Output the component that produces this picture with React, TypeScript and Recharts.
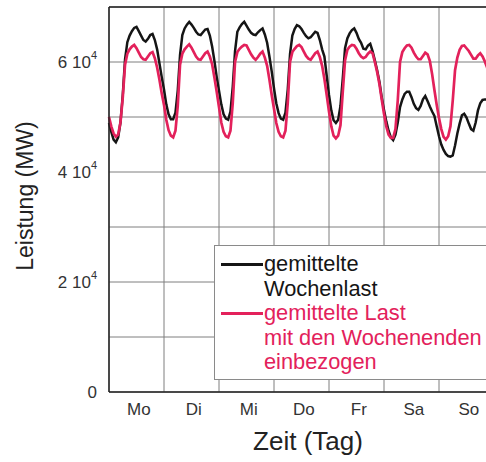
import { LineChart, Line, XAxis, YAxis, CartesianGrid, ReferenceLine } from 'recharts';

// Stundenwerte je Wochentag (MW), jeweils 0–23 Uhr
const wochenlastMo = [48900, 47300, 45900, 45400, 46300, 49000, 54000, 60500, 63600, 64800, 65600, 66200, 66400, 65600, 64800, 64000, 63700, 64200, 64900, 65100, 64000, 62300, 59800, 57300];
const wochenlastDi = [55000, 52300, 50500, 49600, 49600, 50800, 54800, 61300, 64900, 66100, 66800, 67300, 66800, 66200, 65500, 65000, 64900, 65400, 65900, 66000, 64800, 62800, 60200, 57300];
const wochenlastMi = [54800, 52300, 50500, 49700, 49500, 51000, 55500, 62000, 65500, 66300, 66900, 67300, 66600, 65900, 65300, 65000, 64900, 65400, 65800, 66100, 65000, 63500, 61000, 58300];
const wochenlastDo = [55200, 52500, 50700, 49700, 49500, 50800, 55000, 61500, 64800, 66000, 66700, 66500, 66000, 65300, 64700, 64300, 64500, 65000, 65500, 65300, 64000, 62300, 61000, 57500];
const wochenlastFr = [54000, 51200, 49400, 48900, 49500, 52000, 57000, 62500, 64300, 65200, 65800, 66100, 65300, 64200, 63500, 62400, 62300, 63000, 63300, 62000, 60300, 58500, 56400, 53600];
const wochenlastSa = [51300, 49200, 47500, 46300, 45800, 46800, 49000, 51800, 53200, 54200, 54600, 54600, 53600, 52400, 51600, 51300, 52000, 53200, 53800, 52900, 51900, 51000, 50200, 48300];
const wochenlastSo = [46500, 45000, 44000, 43300, 42900, 42800, 43000, 44800, 47000, 48800, 50300, 50600, 49900, 48800, 47800, 47500, 49000, 51200, 52500, 53100, 53200, 53200, 53000, 52600];
const wochenlastEnde = 52200;

const mitWeMo = [50000, 48300, 47000, 46400, 46800, 49000, 53500, 59500, 61500, 62300, 62800, 63100, 62500, 61700, 60900, 60500, 60400, 61000, 61600, 61800, 60700, 59000, 56800, 54300];
const mitWeDi = [52200, 49500, 47600, 46600, 46300, 47500, 52000, 59500, 61500, 62300, 62800, 63200, 62600, 61800, 61000, 60500, 60400, 61000, 61600, 61900, 61000, 59600, 57200, 54600];
const mitWeMi = [51800, 49000, 47300, 46500, 46300, 47500, 52500, 60000, 61800, 62400, 62800, 63100, 63000, 62200, 61400, 60800, 60400, 60900, 61500, 61900, 60800, 59300, 56800, 54000];
const mitWeDo = [51500, 48900, 47300, 46500, 46300, 47500, 52500, 60000, 61800, 62400, 62900, 63100, 62700, 61900, 61100, 60600, 60400, 61000, 61600, 61900, 60900, 59300, 56900, 54000];
const mitWeFr = [51000, 48300, 46600, 46100, 46600, 48500, 54500, 60300, 62200, 62800, 63100, 63000, 62400, 61600, 61000, 60700, 60900, 61500, 61900, 61600, 60000, 58200, 56000, 53200];
const mitWeSa = [50600, 48300, 46800, 46200, 46200, 47800, 53000, 60000, 61800, 62500, 63000, 63100, 62600, 61700, 61000, 60500, 60500, 61100, 61700, 61400, 60200, 57800, 54900, 52200];
const mitWeSo = [49800, 47800, 46400, 45900, 46500, 48300, 53000, 58500, 60800, 62200, 62900, 63000, 62500, 62000, 61300, 60600, 60600, 61200, 61600, 61000, 60100, 59000, 57000, 54500];
const mitWeEnde = 52000;

const tagNamen = ['Mo', 'Di', 'Mi', 'Do', 'Fr', 'Sa', 'So'];
const tagMitten = [13, 37, 61, 85, 109, 133, 157];
const tagGrenzen = [0, 24, 48, 72, 96, 120, 144, 168];
const leistungTicks = [0, 10000, 20000, 30000, 40000, 50000, 60000, 70000];

const SCHWARZ = '#151515';
const ROT = '#e3215b';
const SCHRIFT = '"Liberation Sans", Arial, Helvetica, sans-serif';

const wochenlast = [
  ...wochenlastMo, ...wochenlastDi, ...wochenlastMi, ...wochenlastDo,
  ...wochenlastFr, ...wochenlastSa, ...wochenlastSo, wochenlastEnde,
];
const mitWochenenden = [
  ...mitWeMo, ...mitWeDi, ...mitWeMi, ...mitWeDo,
  ...mitWeFr, ...mitWeSa, ...mitWeSo, mitWeEnde,
];

const daten = wochenlast.map((w, stunde) => ({
  stunde,
  wochenlast: w,
  mitWochenenden: mitWochenenden[stunde],
}));

// Y-Beschriftung in der Form "6 10⁴", nur jeder zweite Rasterwert
const LeistungTick = ({ x, y, payload }: { x?: number; y?: number; payload?: { value: number } }) => {
  const v = payload?.value ?? 0;
  if (v % 20000 !== 0) return <g />;
  return (
    <text x={x} y={y} textAnchor="end" dominantBaseline="central" fontSize={17} fill="#333" fontFamily={SCHRIFT}>
      {v === 0 ? (
        '0'
      ) : (
        <>
          <tspan>{`${v / 10000} 10`}</tspan>
          <tspan dy={-7} fontSize={11}>4</tspan>
        </>
      )}
    </text>
  );
};

const legendenEintraege = [
  { farbe: SCHWARZ, zeilen: ['gemittelte', 'Wochenlast'] },
  { farbe: ROT, zeilen: ['gemittelte Last', 'mit den Wochenenden', 'einbezogen'] },
];

function Legende() {
  return (
    <div
      style={{
        position: 'absolute',
        left: 214,
        top: 245,
        width: 300,
        height: 135,
        boxSizing: 'border-box',
        border: '1px solid #8a8a8a',
        background: '#fff',
        padding: '6px 0 0 0',
        fontFamily: SCHRIFT,
        fontSize: 21.8,
        lineHeight: '24.6px',
      }}
    >
      {legendenEintraege.map((e) => (
        <div key={e.zeilen[0]} style={{ position: 'relative', paddingLeft: 49, color: e.farbe }}>
          <span
            style={{
              position: 'absolute',
              left: 6,
              top: 11,
              width: 42,
              height: 2.5,
              background: e.farbe,
            }}
          />
          {e.zeilen.map((z) => (
            <div key={z}>{z}</div>
          ))}
        </div>
      ))}
    </div>
  );
}

export default function App() {
  return (
    <div
      style={{
        position: 'fixed',
        left: 0,
        top: 0,
        width: 486,
        height: 462,
        overflow: 'hidden',
        background: '#fff',
      }}
    >
      <LineChart width={500} height={462} data={daten} margin={{ top: 7, right: 6, bottom: 10, left: 0 }}>
        <XAxis xAxisId="raster" type="number" dataKey="stunde" domain={[0, 168]} ticks={tagGrenzen} hide />
        <CartesianGrid xAxisId="raster" stroke="#7e7e7e" strokeWidth={1} />
        <XAxis
          type="number"
          dataKey="stunde"
          domain={[0, 168]}
          ticks={tagMitten}
          interval={0}
          tickFormatter={(_v: number, i: number) => tagNamen[i]}
          tickLine={false}
          tickSize={0}
          tickMargin={11}
          height={60}
          axisLine={{ stroke: '#222', strokeWidth: 1.5 }}
          tick={{ fontSize: 17, fill: '#333', fontFamily: SCHRIFT }}
        />
        <YAxis
          type="number"
          domain={[0, 70000]}
          ticks={leistungTicks}
          interval={0}
          width={109}
          tickLine={false}
          tickSize={0}
          tickMargin={12}
          axisLine={{ stroke: '#222', strokeWidth: 1.5 }}
          tick={<LeistungTick />}
        />
        <ReferenceLine y={70000} stroke="#222" strokeWidth={1.5} />
        <Line
          type="linear"
          dataKey="wochenlast"
          name="gemittelte Wochenlast"
          stroke={SCHWARZ}
          strokeWidth={2.5}
          dot={false}
          isAnimationActive={false}
        />
        <Line
          type="linear"
          dataKey="mitWochenenden"
          name="gemittelte Last mit den Wochenenden einbezogen"
          stroke={ROT}
          strokeWidth={2.7}
          dot={false}
          isAnimationActive={false}
        />
        <text
          x={25}
          y={196}
          transform="rotate(-90 25 196)"
          textAnchor="middle"
          dominantBaseline="central"
          fontSize={23}
          fill="#222"
          fontFamily={SCHRIFT}
        >
          Leistung (MW)
        </text>
        <text x={308} y={441} textAnchor="middle" dominantBaseline="central" fontSize={26} fill="#222" fontFamily={SCHRIFT}>
          Zeit (Tag)
        </text>
      </LineChart>
      <Legende />
    </div>
  );
}
